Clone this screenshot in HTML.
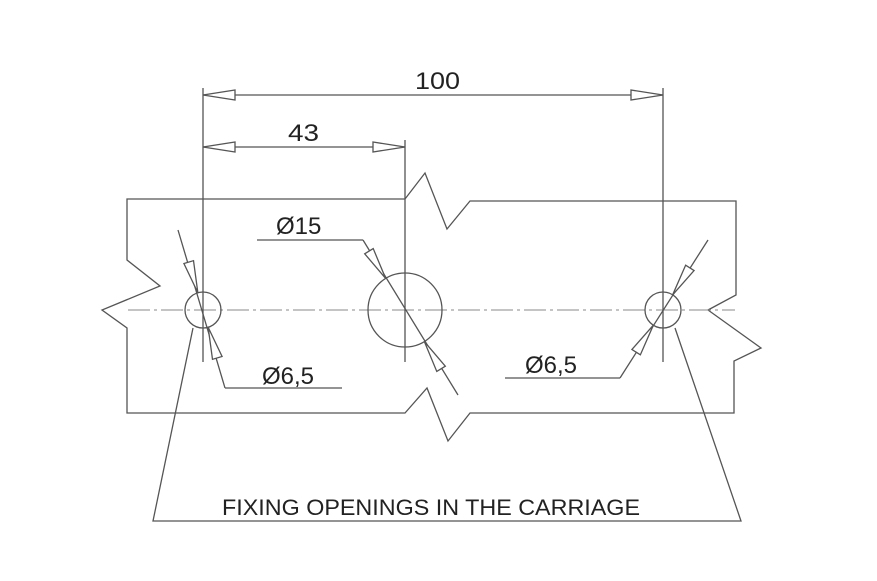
<!DOCTYPE html>
<html><head><meta charset="utf-8"><style>
html,body{margin:0;padding:0;background:#fff;}
svg{display:block;}
text{font-family:"Liberation Sans",sans-serif;fill:#222;}
</style></head><body>
<svg width="877" height="581" viewBox="0 0 877 581" xmlns="http://www.w3.org/2000/svg">
<g fill="none" stroke="#555" stroke-width="1.3">
<!-- left piece -->
<polyline points="405,199 127,199 127,260 160,286 102,310 127,328 127,413 405,413 427,388 448,441 470,413 734,413 734,361 761,348 708,310 736,295 736,201 470,201 447,229 425,173 405,199"/>
<!-- centerline -->
<line x1="128" y1="310" x2="735" y2="310" stroke="#888" stroke-width="1" stroke-dasharray="22,4,3,4"/>
<!-- circles -->
<circle cx="203" cy="310" r="18"/>
<circle cx="405" cy="310" r="37"/>
<circle cx="663" cy="310" r="18"/>
<!-- extension lines -->
<line x1="203" y1="88" x2="203" y2="362"/>
<line x1="405" y1="140" x2="405" y2="362"/>
<line x1="663" y1="88" x2="663" y2="362"/>
<!-- dimension lines -->
<line x1="203" y1="95" x2="663" y2="95"/>
<line x1="203" y1="147" x2="405" y2="147"/>
<polygon points="203,95 235,90 235,100" fill="#fff"/>
<polygon points="663,95 631,90 631,100" fill="#fff"/>
<polygon points="203,147 235,142 235,152" fill="#fff"/>
<polygon points="405,147 373,142 373,152" fill="#fff"/>
<!-- left diameter -->
<line x1="178" y1="230" x2="225" y2="388"/>
<line x1="225" y1="388" x2="342" y2="388"/>
<g transform="translate(203,310) rotate(73.4)">
<polygon points="18,0 50,-5 50,5" fill="#fff"/>
<polygon points="-18,0 -50,-5 -50,5" fill="#fff"/>
</g>
<!-- middle diameter -->
<line x1="257" y1="240" x2="363" y2="240"/>
<line x1="363" y1="240" x2="458" y2="395"/>
<g transform="translate(405,310) rotate(58.5)">
<polygon points="37,0 69,-5 69,5" fill="#fff"/>
<polygon points="-37,0 -69,-5 -69,5" fill="#fff"/>
</g>
<!-- right diameter -->
<line x1="708" y1="240" x2="620" y2="378"/>
<line x1="620" y1="378" x2="505" y2="378"/>
<g transform="translate(663,310) rotate(122.5)">
<polygon points="18,0 50,-5 50,5" fill="#fff"/>
<polygon points="-18,0 -50,-5 -50,5" fill="#fff"/>
</g>
<!-- bracket -->
<polyline points="193,328 153,521 741,521 675,328"/>
</g>
<text x="415" y="89" font-size="24" textLength="45" lengthAdjust="spacingAndGlyphs">100</text>
<text x="288" y="141" font-size="24" textLength="31" lengthAdjust="spacingAndGlyphs">43</text>
<text x="276" y="234" font-size="24">Ø15</text>
<text x="262" y="384" font-size="24">Ø6,5</text>
<text x="525" y="373" font-size="24">Ø6,5</text>
<text x="222" y="515" font-size="22" textLength="418" lengthAdjust="spacingAndGlyphs">FIXING OPENINGS IN THE CARRIAGE</text>
</svg>
</body></html>
